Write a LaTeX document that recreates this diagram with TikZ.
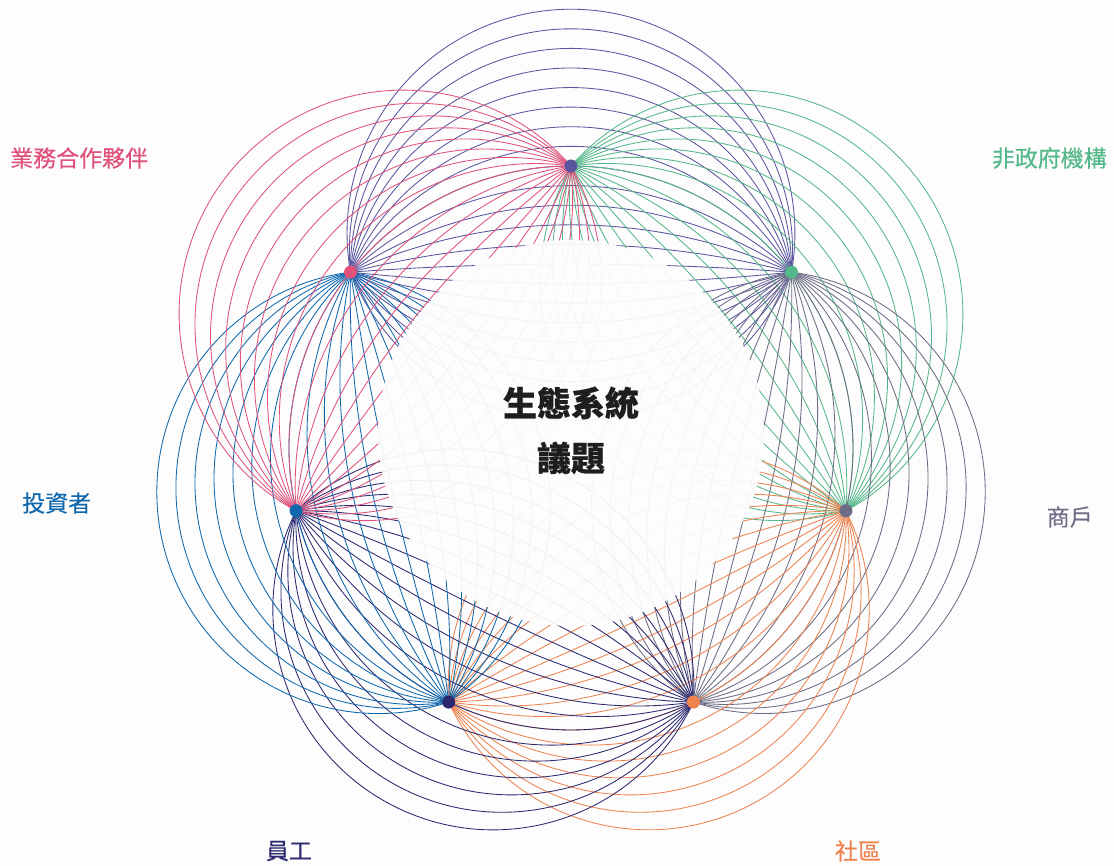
\documentclass[tikz,border=0pt]{standalone}
\usepackage{fontspec}
\setmainfont{Noto Sans CJK TC}
\newfontfamily\titlefont{Noto Sans CJK TC}[BoldFeatures={FakeBold=0.6}]
\newfontfamily\labfont{Noto Sans CJK TC}[FakeBold=0.3]
\definecolor{cpurple}{HTML}{5A559F}
\definecolor{cgreen}{HTML}{55B88A}
\definecolor{cgrey}{HTML}{6C6C86}
\definecolor{corange}{HTML}{EF8350}
\definecolor{cnavy}{HTML}{2B2870}
\definecolor{cblue}{HTML}{0F68AE}
\definecolor{cpink}{HTML}{E0527C}
\definecolor{bgc}{HTML}{FDFDFD}
\definecolor{ctext}{HTML}{1E1E1E}
\tikzset{
  arcline/.style={line width=0.85pt},
  dotnode/.style={circle, inner sep=0pt, minimum size=13pt},
  lab/.style={font=\labfont\fontsize{23}{28}\selectfont, inner sep=0pt},
  centertext/.style={font=\titlefont\fontsize{34}{40}\selectfont\bfseries, text=ctext, inner sep=0pt}
}
\begin{document}
\begin{tikzpicture}[x=100pt,y=100pt]
\useasboundingbox (-5.71,-4.18) rectangle (5.43,4.48);
\fill[bgc] (-5.71,-4.18) rectangle (5.43,4.48);
% arc families: circles through the two neighbours of node i
\foreach \i/\col/\kmax in {0/cpurple/8, 1/cgreen/8, 2/cgrey/7, 3/corange/6, 4/cnavy/6, 5/cblue/7, 6/cpink/8}{
  \pgfmathsetmacro\rot{-\i*360/7}
  \begin{scope}[rotate=\rot]
    \foreach \k in {-13,...,\kmax}{
      \pgfmathsetmacro\s{1.0618+0.196*\k}
      \pgfmathsetmacro\q{(4.8612-\s*\s)/(2*\s)}
      \pgfmathsetmacro\rr{abs((4.8612+\s*\s)/(2*\s))}
      \pgfmathsetmacro\sa{atan2(\q,-2.2048)}
      \pgfmathsetmacro\ea{atan2(\q,2.2048)}
      \pgfmathsetmacro\sa{\sa<0 ? \sa+360 : \sa}
      \pgfmathsetmacro\ea{\s<0 ? \ea+360 : \ea}
      \draw[arcline, \col] (-2.2048,1.7582) arc[start angle=\sa, end angle=\ea, radius=\rr];
    }
  \end{scope}
}
% faded centre
\fill[bgc, fill opacity=0.94] (0,0.15) circle (1.93);
% stakeholder dots
\node[dotnode, fill=cpurple] (n0) at (90:2.82) {};
\node[dotnode, fill=cgreen] (n1) at ({90-360/7}:2.82) {};
\node[dotnode, fill=cgrey] (n2) at ({90-2*360/7}:2.82) {};
\node[dotnode, fill=corange] (n3) at ({90-3*360/7}:2.82) {};
\node[dotnode, fill=cnavy] (n4) at ({90-4*360/7}:2.82) {};
\node[dotnode, fill=cblue] (n5) at ({90-5*360/7}:2.82) {};
\node[dotnode, fill=cpink] (n6) at ({90-6*360/7}:2.82) {};
% labels
\node[lab, text=cpink, anchor=west] (l6) at (-5.61,2.90) {業務合作夥伴};
\node[lab, text=cgreen, anchor=east] (l1) at (5.36,2.90) {非政府機構};
\node[lab, text=cblue, anchor=west] (l5) at (-5.49,-0.55) {投資者};
\node[lab, text=cgrey, anchor=east] (l2) at (5.22,-0.69) {商戶};
\node[lab, text=cnavy] (l4) at (-2.82,-4.03) {員工};
\node[lab, text=corange] (l3) at (2.87,-4.03) {社區};
% centre title
\node[centertext] (t1) at (0,0.45) {生態系統};
\node[centertext] (t2) at (0,-0.10) {議題};
\end{tikzpicture}
\end{document}
